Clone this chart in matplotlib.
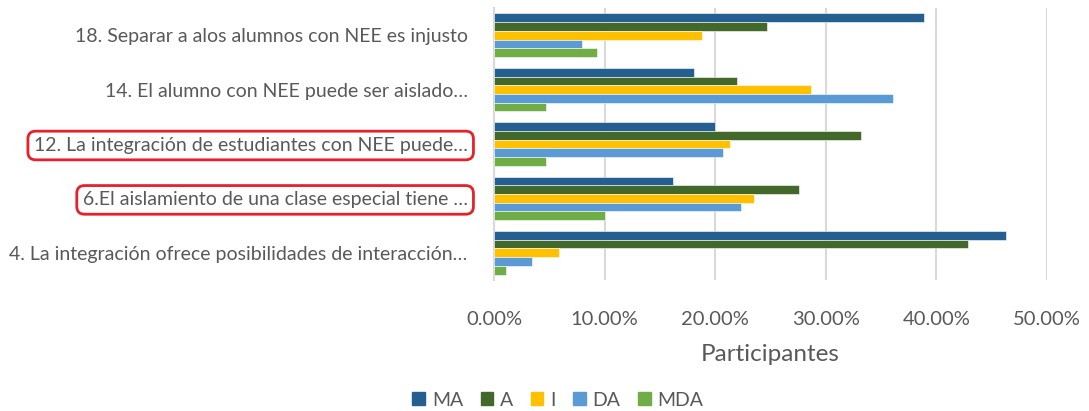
import numpy as np
import matplotlib.pyplot as plt
from matplotlib.ticker import FuncFormatter
from matplotlib.patches import Patch

plt.rcParams['font.family'] = ['Lato', 'DejaVu Sans']

categories = [
    '18. Separar a alos alumnos con NEE es injusto',
    '14. El alumno con NEE puede ser aislado\u2026',
    '12. La integraci\u00f3n de estudiantes con NEE puede\u2026',
    '6.El aislamiento de una clase especial tiene \u2026',
    '4. La integraci\u00f3n ofrece posibilidades de interacci\u00f3n\u2026',
]
series_names = ['MA', 'A', 'I', 'DA', 'MDA']
ma = [38.9, 18.1, 20.0, 16.2, 46.3]
a = [24.7, 22.0, 33.2, 27.6, 42.9]
i_ = [18.8, 28.7, 21.3, 23.5, 5.9]
da = [8.0, 36.1, 20.7, 22.3, 3.4]
mda = [9.3, 4.7, 4.7, 10.0, 1.1]
highlighted = [2, 3]

colors = ['#255E91', '#43682B', '#FFC000', '#5B9BD5', '#70AD47']
txt = '#595959'

fig = plt.figure(figsize=(10.89, 4.11), dpi=100)
ax = fig.add_axes([494/1089, 1-280/411, (1047-494)/1089, 272/411])

y = np.arange(len(categories))
h = 0.16
for k, vals in enumerate([ma, a, i_, da, mda]):
    ax.barh(y - 0.4 + h/2 + k*h, vals, height=h, color=colors[k],
            edgecolor='white', linewidth=0.4, label=series_names[k], zorder=3)

ax.set_xlim(0, 50)
ax.set_ylim(len(categories) - 0.5, -0.5)
ax.set_xticks(np.arange(0, 51, 10))
ax.xaxis.set_major_formatter(FuncFormatter(lambda v, p: f'{v:.2f}%'))
ax.set_yticks(y)
ax.set_yticklabels(categories)
ax.grid(axis='x', color='#D9D9D9', linewidth=1.5, zorder=0)
for s in ['top', 'right', 'bottom']:
    ax.spines[s].set_visible(False)
ax.spines['left'].set_color('#D9D9D9')
ax.spines['left'].set_linewidth(1.5)
ax.tick_params(axis='x', length=0, labelsize=14.5, labelcolor=txt, pad=22)
ax.tick_params(axis='y', length=0, labelsize=14, labelcolor=txt, pad=19)
ax.set_xlabel('Participantes', fontsize=17.5, color=txt, labelpad=12)

for idx, lbl in enumerate(ax.get_yticklabels()):
    if idx in highlighted:
        lbl.set_bbox(dict(boxstyle='round,pad=0.3,rounding_size=0.4', fc='none',
                          ec='#E8202A', lw=2))

handles = [Patch(color=c, label=n) for c, n in zip(colors, series_names)]
fig.legend(handles=handles, loc='center', bbox_to_anchor=(558/1089, 1-400/411),
           ncol=5, frameon=False, fontsize=14, labelcolor=txt,
           handlelength=0.65, handleheight=0.65, handletextpad=0.35, columnspacing=0.9)

fig.savefig('out.png', dpi=100)
